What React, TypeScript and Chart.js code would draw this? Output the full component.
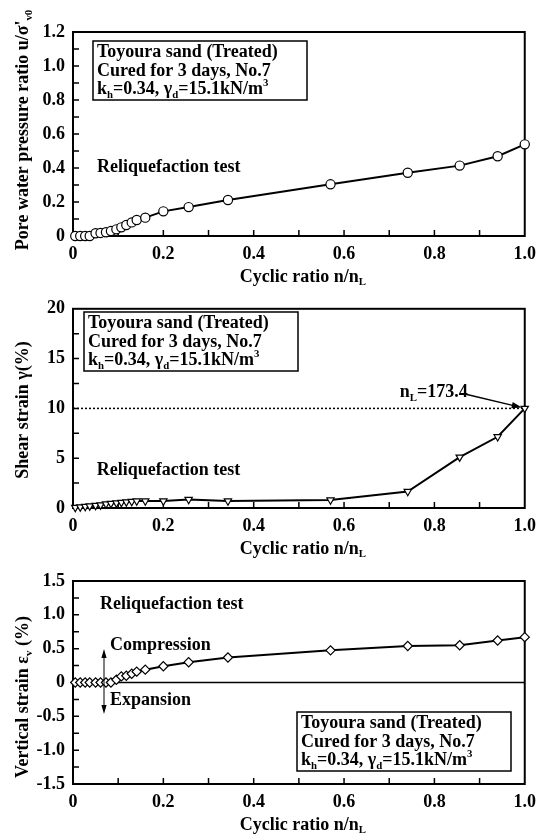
import React, { useEffect, useRef } from "react";
import { Chart, registerables } from "chart.js";
Chart.register(...registerables);

// ---------- data ----------
const cyclicRatio = [0.005, 0.016, 0.027, 0.037, 0.05, 0.061, 0.073, 0.084, 0.096, 0.107, 0.118, 0.13, 0.141, 0.16, 0.2, 0.256, 0.343, 0.57, 0.741, 0.856, 0.94, 1.0];
const poreRatio = [0, 0, 0, 0, 0.016, 0.018, 0.022, 0.029, 0.039, 0.051, 0.065, 0.08, 0.094, 0.108, 0.145, 0.17, 0.212, 0.304, 0.372, 0.414, 0.469, 0.539];
const shearStrain = [0.05, 0.1, 0.15, 0.2, 0.25, 0.3, 0.4, 0.45, 0.5, 0.55, 0.6, 0.65, 0.7, 0.7, 0.7, 0.85, 0.7, 0.8, 1.65, 5.1, 7.15, 10];
const verticalStrain = [0, 0, 0, 0, 0, 0, 0, 0, 0.04, 0.09, 0.1, 0.13, 0.16, 0.19, 0.24, 0.3, 0.37, 0.475, 0.54, 0.55, 0.62, 0.67];

const xTicks = [0, 0.2, 0.4, 0.6, 0.8, 1.0];
const poreTicks = [0, 0.2, 0.4, 0.6, 0.8, 1.0, 1.2];
const shearTicks = [0, 5, 10, 15, 20];
const vertTicks = [-1.5, -1.0, -0.5, 0, 0.5, 1.0, 1.5];
const liquefactionCycles = "173.4";
const liquefactionStrain = 10;

const SERIF = '"Liberation Serif", "Times New Roman", serif';

type Seg = { t: string; sub?: boolean; sup?: boolean };

const fontStr = (size: number) => `bold ${size}px ${SERIF}`;

function segWidth(ctx: CanvasRenderingContext2D, segs: Seg[], size: number) {
  let w = 0;
  for (const s of segs) {
    ctx.font = fontStr(s.sub || s.sup ? size * 0.6 : size);
    w += ctx.measureText(s.t).width;
  }
  return w;
}

function drawSegs(ctx: CanvasRenderingContext2D, segs: Seg[], x: number, y: number, size: number, align: "left" | "center" = "left") {
  let cx = align === "center" ? x - segWidth(ctx, segs, size) / 2 : x;
  ctx.textBaseline = "alphabetic";
  ctx.textAlign = "left";
  ctx.fillStyle = "#000";
  for (const s of segs) {
    const sz = s.sub || s.sup ? size * 0.6 : size;
    ctx.font = fontStr(sz);
    const dy = s.sub ? size * 0.2 : s.sup ? -size * 0.45 : 0;
    ctx.fillText(s.t, cx, y + dy);
    cx += ctx.measureText(s.t).width;
  }
}

const infoLines: Seg[][] = [
  [{ t: "Toyoura sand (Treated)" }],
  [{ t: "Cured for 3 days, No.7" }],
  [{ t: "k" }, { t: "h", sub: true }, { t: "=0.34, " }, { t: "γ" }, { t: "d", sub: true }, { t: "=15.1kN/m" }, { t: "3", sup: true }],
];

function drawInfoBox(ctx: CanvasRenderingContext2D, x: number, y: number) {
  ctx.save();
  ctx.fillStyle = "#fff";
  ctx.fillRect(x, y, 214, 59);
  ctx.strokeStyle = "#000";
  ctx.lineWidth = 1.5;
  ctx.strokeRect(x, y, 214, 59);
  const base = [16.3, 35, 53.3];
  infoLines.forEach((l, i) => drawSegs(ctx, l, x + 4, y + base[i], 18));
  ctx.restore();
}

function arrowHead(ctx: CanvasRenderingContext2D, x0: number, y0: number, x1: number, y1: number, len = 9, half = 3) {
  const a = Math.atan2(y1 - y0, x1 - x0);
  ctx.beginPath();
  ctx.moveTo(x1, y1);
  ctx.lineTo(x1 - len * Math.cos(a) + half * Math.sin(a), y1 - len * Math.sin(a) - half * Math.cos(a));
  ctx.lineTo(x1 - len * Math.cos(a) - half * Math.sin(a), y1 - len * Math.sin(a) + half * Math.cos(a));
  ctx.closePath();
  ctx.fill();
}

const xTitle: Seg[] = [{ t: "Cyclic ratio n/n" }, { t: "L", sub: true }];

interface PanelCfg {
  canvasTop: number;
  height: number;
  areaTop: number;
  areaBottom: number;
  yMin: number;
  yMax: number;
  yTicks: number[];
  yMinor: number;
  yFmt: (v: number) => string;
  values: number[];
  pointStyle: string;
  rotation: number;
  radius: number;
  yTitle: Seg[];
  yTitleY: number;
  xTitleBase: number;
  boxPos: [number, number];
  reliqPos: [number, number];
  extraBefore?: (ctx: CanvasRenderingContext2D, chart: any) => void;
  extraAfter?: (ctx: CanvasRenderingContext2D, chart: any) => void;
}

const fmt1 = (v: number) => (Math.abs(v) < 1e-9 ? "0" : v.toFixed(1));

const panels: PanelCfg[] = [
  {
    canvasTop: 0,
    height: 290,
    areaTop: 32,
    areaBottom: 236,
    yMin: 0,
    yMax: 1.2,
    yTicks: poreTicks,
    yMinor: 0.1,
    yFmt: fmt1,
    values: poreRatio,
    pointStyle: "circle",
    rotation: 0,
    radius: 4.6,
    yTitle: [{ t: "Pore water pressure ratio u/σ'" }, { t: "v0", sub: true }],
    yTitleY: 130,
    xTitleBase: 281.7,
    boxPos: [93, 41],
    reliqPos: [97, 171.7],
  },
  {
    canvasTop: 290,
    height: 272,
    areaTop: 14,
    areaBottom: 218,
    yMin: 0,
    yMax: 20,
    yTicks: shearTicks,
    yMinor: 2.5,
    yFmt: (v: number) => String(Math.round(v)),
    values: shearStrain,
    pointStyle: "triangle",
    rotation: 180,
    radius: 4.2,
    yTitle: [{ t: "Shear strain γ(%)" }],
    yTitleY: 120,
    xTitleBase: 263.7,
    boxPos: [84, 22],
    reliqPos: [96.7, 185],
    extraBefore: (ctx, chart) => {
      const xs = chart.scales.x;
      const ys = chart.scales.y;
      const yy = ys.getPixelForValue(liquefactionStrain);
      ctx.save();
      ctx.strokeStyle = "#000";
      ctx.lineWidth = 1.5;
      ctx.setLineDash([2, 2]);
      ctx.beginPath();
      ctx.moveTo(xs.left, yy);
      ctx.lineTo(xs.right, yy);
      ctx.stroke();
      ctx.restore();
    },
    extraAfter: (ctx, chart) => {
      const xs = chart.scales.x;
      const ys = chart.scales.y;
      drawSegs(ctx, [{ t: "n" }, { t: "L", sub: true }, { t: "=" + liquefactionCycles }], 399.7, 107.3, 18);
      const x1 = xs.getPixelForValue(1.0) - 3;
      const y1 = ys.getPixelForValue(liquefactionStrain) - 1;
      ctx.save();
      ctx.strokeStyle = "#000";
      ctx.fillStyle = "#000";
      ctx.lineWidth = 1.3;
      ctx.beginPath();
      ctx.moveTo(467, 104.5);
      ctx.lineTo(x1 - 6, y1 - 1.2);
      ctx.stroke();
      arrowHead(ctx, 467, 104.5, x1, y1, 10, 3.2);
      ctx.restore();
    },
  },
  {
    canvasTop: 562,
    height: 272,
    areaTop: 19,
    areaBottom: 222,
    yMin: -1.5,
    yMax: 1.5,
    yTicks: vertTicks,
    yMinor: 0.25,
    yFmt: fmt1,
    values: verticalStrain,
    pointStyle: "rectRot",
    rotation: 0,
    radius: 4.6,
    yTitle: [{ t: "Vertical strain ε" }, { t: "v", sub: true }, { t: " (%)" }],
    yTitleY: 135,
    xTitleBase: 267.7,
    boxPos: [297, 150],
    reliqPos: [100, 47],
    extraBefore: (ctx, chart) => {
      const xs = chart.scales.x;
      const ys = chart.scales.y;
      const y0 = ys.getPixelForValue(0);
      ctx.save();
      ctx.strokeStyle = "#000";
      ctx.lineWidth = 1.5;
      ctx.beginPath();
      ctx.moveTo(xs.left, y0);
      ctx.lineTo(xs.right, y0);
      ctx.stroke();
      ctx.restore();
    },
    extraAfter: (ctx) => {
      drawSegs(ctx, [{ t: "Compression" }], 110, 88, 18);
      drawSegs(ctx, [{ t: "Expansion" }], 110, 143, 18);
      ctx.save();
      ctx.strokeStyle = "#000";
      ctx.fillStyle = "#000";
      ctx.lineWidth = 1;
      ctx.beginPath();
      ctx.moveTo(104, 92);
      ctx.lineTo(104, 148);
      ctx.stroke();
      arrowHead(ctx, 104, 110, 104, 87, 9, 2.6);
      arrowHead(ctx, 104, 110, 104, 152, 9, 2.6);
      ctx.restore();
    },
  },
];

function Panel({ cfg }: { cfg: PanelCfg }) {
  const ref = useRef<HTMLCanvasElement | null>(null);
  useEffect(() => {
    const canvas = ref.current;
    if (!canvas) return;
    const decor = {
      id: "decor",
      beforeDatasetsDraw(chart: any) {
        const ctx = chart.ctx as CanvasRenderingContext2D;
        const { left, right, top, bottom } = chart.chartArea;
        const xs = chart.scales.x;
        const ys = chart.scales.y;
        ctx.save();
        if (cfg.extraBefore) cfg.extraBefore(ctx, chart);
        ctx.strokeStyle = "#000";
        ctx.lineWidth = 1.5;
        // minor/major inner ticks
        ctx.beginPath();
        for (let i = 1; i < 10; i++) {
          const px = xs.getPixelForValue(i * 0.1);
          ctx.moveTo(px, bottom);
          ctx.lineTo(px, bottom - 6);
        }
        const n = Math.round((cfg.yMax - cfg.yMin) / cfg.yMinor);
        for (let i = 1; i < n; i++) {
          const py = ys.getPixelForValue(cfg.yMin + i * cfg.yMinor);
          ctx.moveTo(left, py);
          ctx.lineTo(left + 6, py);
        }
        ctx.stroke();
        ctx.lineWidth = 2;
        ctx.strokeRect(left, top, right - left, bottom - top);
        ctx.restore();
      },
      afterDraw(chart: any) {
        const ctx = chart.ctx as CanvasRenderingContext2D;
        const { left, right } = chart.chartArea;
        ctx.save();
        drawInfoBox(ctx, cfg.boxPos[0], cfg.boxPos[1]);
        drawSegs(ctx, [{ t: "Reliquefaction test" }], cfg.reliqPos[0], cfg.reliqPos[1], 18);
        drawSegs(ctx, xTitle, (left + right) / 2 + 4, cfg.xTitleBase, 18, "center");
        ctx.translate(28, cfg.yTitleY);
        ctx.rotate(-Math.PI / 2);
        drawSegs(ctx, cfg.yTitle, 0, 0, 18, "center");
        ctx.restore();
        ctx.save();
        if (cfg.extraAfter) cfg.extraAfter(ctx, chart);
        ctx.restore();
      },
    };
    const chart = new Chart(canvas, {
      type: "scatter",
      data: {
        datasets: [
          {
            data: cyclicRatio.map((x, i) => ({ x, y: cfg.values[i] })),
            showLine: true,
            borderColor: "#000",
            borderWidth: 2,
            tension: 0,
            pointStyle: cfg.pointStyle as any,
            pointRotation: cfg.rotation,
            pointRadius: cfg.radius,
            pointBackgroundColor: "#fff",
            pointBorderColor: "#000",
            pointBorderWidth: 1.2,
            clip: false as any,
          },
        ],
      },
      options: {
        responsive: false,
        animation: false,
        devicePixelRatio: 1,
        layout: { padding: { top: cfg.areaTop, right: 16, left: 0, bottom: 0 } },
        plugins: { legend: { display: false }, tooltip: { enabled: false } },
        scales: {
          x: {
            type: "linear",
            min: 0,
            max: 1,
            grid: { display: false, drawTicks: false },
            border: { display: false },
            afterBuildTicks: (s: any) => {
              s.ticks = xTicks.map((v) => ({ value: v }));
            },
            afterFit: (s: any) => {
              s.height = cfg.height - cfg.areaBottom;
            },
            ticks: {
              padding: 8,
              maxRotation: 0,
              autoSkip: false,
              color: "#000",
              font: { family: SERIF, size: 18, weight: "bold" },
              callback: (v: any) => fmt1(Number(v)),
            },
          },
          y: {
            type: "linear",
            min: cfg.yMin,
            max: cfg.yMax,
            grid: { display: false, drawTicks: false },
            border: { display: false },
            afterBuildTicks: (s: any) => {
              s.ticks = cfg.yTicks.map((v) => ({ value: v }));
            },
            afterFit: (s: any) => {
              s.width = 73;
            },
            ticks: {
              padding: 8,
              autoSkip: false,
              color: "#000",
              font: { family: SERIF, size: 18, weight: "bold" },
              callback: (v: any) => cfg.yFmt(Number(v)),
            },
          },
        },
      },
      plugins: [decor],
    });
    return () => chart.destroy();
  }, [cfg]);
  return (
    <canvas
      ref={ref}
      width={544}
      height={cfg.height}
      style={{ position: "absolute", left: 0, top: cfg.canvasTop, width: 544, height: cfg.height }}
    />
  );
}

export default function App() {
  return (
    <div style={{ position: "absolute", left: 0, top: 0, width: 544, height: 834, background: "#fff", overflow: "hidden" }}>
      {panels.map((p, i) => (
        <Panel key={i} cfg={p} />
      ))}
    </div>
  );
}
